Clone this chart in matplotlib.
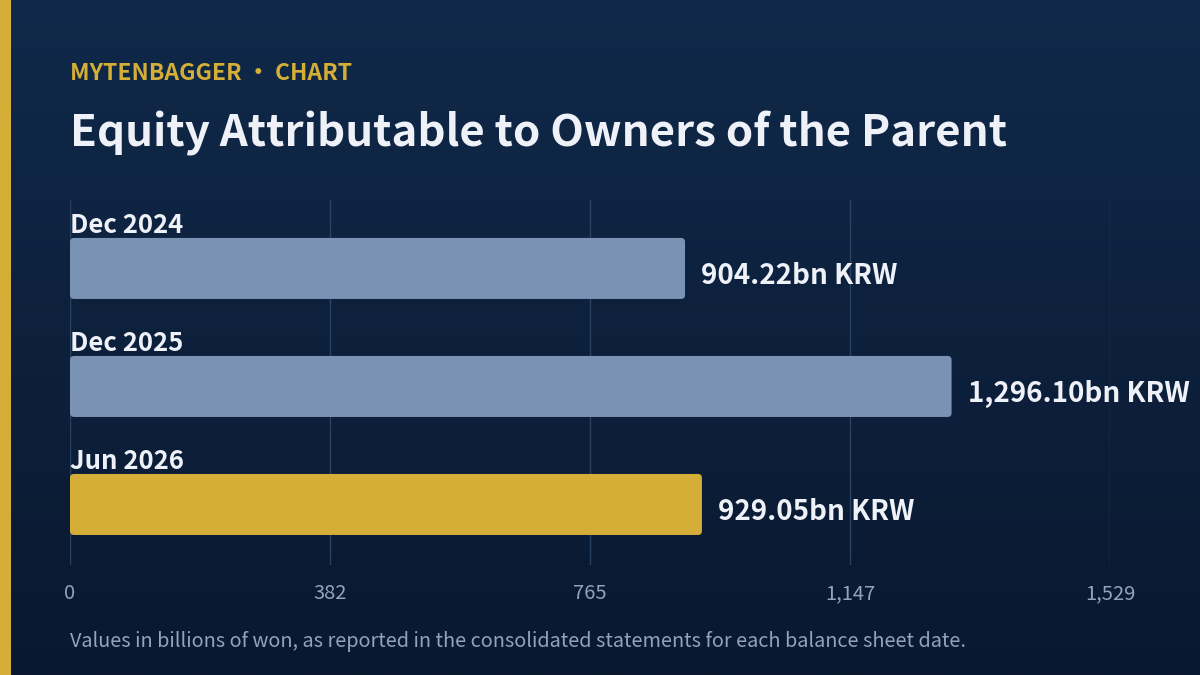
"""Equity attributable to owners of the parent, horizontal bar card."""

import numpy as np
import matplotlib
matplotlib.use("Agg")
import matplotlib.pyplot as plt
from matplotlib.patches import FancyBboxPatch, Rectangle

plt.rcParams['font.family'] = ['Noto Sans CJK SC', 'DejaVu Sans']

periods = ['Dec 2024', 'Dec 2025', 'Jun 2026']
equity_bn = [904.22, 1296.10, 929.05]
value_labels = ['904.22bn KRW', '1,296.10bn KRW', '929.05bn KRW']
tick_values = [0, 382.25, 764.5, 1146.75, 1529]
tick_labels = ['0', '382', '765', '1,147', '1,529']

BG_TOP = '#10294a'
BG_BOTTOM = '#0a182f'
GOLD = '#d4ae37'
SLATE = '#7a93b4'
WHITE = '#eef2f8'
MUTED = '#94a3ba'
GRID = '#2a4262'

W, H = 1200, 675
fig = plt.figure(figsize=(W / 100, H / 100), dpi=100)

# background gradient
bg = fig.add_axes([0, 0, 1, 1])
grad = np.linspace(0, 1, 256).reshape(-1, 1)
top = np.array(matplotlib.colors.to_rgb(BG_TOP))
bot = np.array(matplotlib.colors.to_rgb(BG_BOTTOM))
img = top[None, None, :] * (1 - grad[:, :, None]) + bot[None, None, :] * grad[:, :, None]
bg.imshow(img, aspect='auto', extent=[0, 1, 0, 1], origin='upper')
bg.add_patch(Rectangle((0, 0), 11 / W, 1, color=GOLD, lw=0))
bg.set_xlim(0, 1)
bg.set_ylim(0, 1)
bg.axis('off')

# plot area: x 70..1110 px, y 200..565 px
x0, x1, y0, y1 = 70, 1110, 200, 565
ax = fig.add_axes([x0 / W, 1 - y1 / H, (x1 - x0) / W, (y1 - y0) / H])
ax.patch.set_alpha(0)
xmax = tick_values[-1]
ax.set_xlim(0, xmax)
ax.set_ylim(2.513, -0.58)
for s in ax.spines.values():
    s.set_visible(False)
ax.set_yticks([])
ax.set_xticks(tick_values)
ax.set_xticklabels(tick_labels, color=MUTED, fontsize=14.5)
ax.tick_params(axis='x', length=0, pad=13)
for t in tick_values:
    ax.axvline(t, color=GRID, lw=1, zorder=0)

bar_h = 0.517
px_x = xmax / (x1 - x0)
px_y = 3.093 / (y1 - y0)
colors = [SLATE, SLATE, GOLD]
for i, (lab, val, vlab) in enumerate(zip(periods, equity_bn, value_labels)):
    box = FancyBboxPatch((0, i - bar_h / 2), val, bar_h,
                         boxstyle='round,pad=0,rounding_size=%f' % (4 * px_x),
                         mutation_aspect=px_y / px_x,
                         fc=colors[i], ec='none', zorder=2)
    ax.add_patch(box)
    ax.text(0, i - bar_h / 2 + 0.01, lab, color=WHITE, fontsize=18.5,
            fontweight='bold', ha='left', va='bottom')
    ax.text(val + 16 * px_x, i + 0.06, vlab, color=WHITE, fontsize=20,
            fontweight='bold', ha='left', va='center', clip_on=False)

fig.text(70 / W, 1 - 73 / H, 'MYTENBAGGER · CHART', color=GOLD,
         fontsize=16.5, fontweight='bold', ha='left', va='center')
fig.text(70 / W, 1 - 134 / H, 'Equity Attributable to Owners of the Parent',
         color=WHITE, fontsize=31.5, fontweight='bold', ha='left', va='center')
fig.text(70 / W, 1 - 641 / H,
         'Values in billions of won, as reported in the consolidated '
         'statements for each balance sheet date.',
         color=MUTED, fontsize=14.3, ha='left', va='center')

fig.savefig('out.png', dpi=100, facecolor=BG_BOTTOM)
